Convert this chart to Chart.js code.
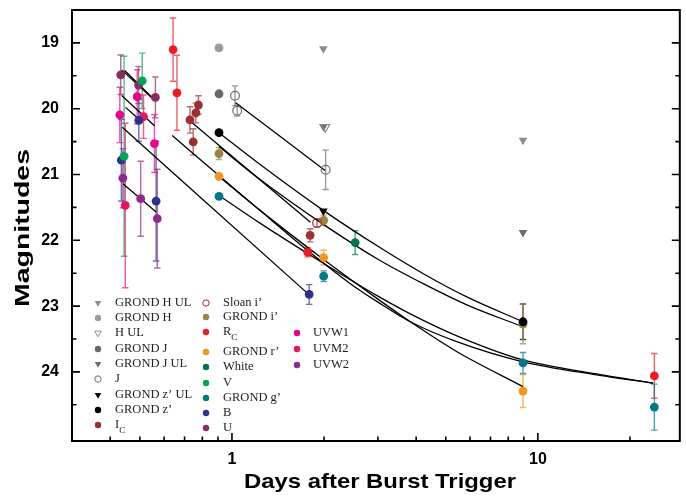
<!DOCTYPE html>
<html><head><meta charset="utf-8">
<script src="https://cdn.jsdelivr.net/npm/chart.js@4.4.0/dist/chart.umd.min.js"></script>
<style>html,body{margin:0;padding:0;background:#fff;overflow:hidden;}canvas{display:block;}</style>
</head><body><canvas id="c" width="686" height="496" style="width:686px;height:496px;"></canvas>
<script>
// ---- data: [days after trigger, magnitude, error] ----
const GROND_H_UL = [[1.99,19.09],[8.94,20.48]];
const GROND_H    = [[0.907,19.076,0.04]];
const H_UL       = [[2.02,20.28]];
const GROND_J    = [[0.907,19.773,0.02]];
const GROND_J_UL = [[1.99,20.27],[8.94,21.88]];
const J_BAND     = [[1.023,19.803,0.15],[1.040,20.03,0.08],[2.024,20.929,0.30]];
const GROND_Z_UL = [[1.99,21.556]];
const GROND_Z    = [[0.907,20.364,0.03],[8.94,23.238,0.27]];
const IC_BAND    = [[0.729,20.171,0.20],[0.747,20.505,0.20],[0.762,20.065,0.15],[0.777,19.944,0.14],[1.801,21.924,0.10]];
const SLOAN_I    = [[1.898,21.738,0.06]];
const GROND_I    = [[0.907,20.682,0.09],[1.994,21.697,0.08],[8.94,23.273,0.30]];
const RC_BAND    = [[0.642,19.102,0.48],[0.661,19.758,0.57],[1.769,22.182,0.07],[24.03,24.061,0.34]];
const GROND_R    = [[0.907,21.030,0.03],[1.994,22.262,0.11],[8.94,24.292,0.25]];
const WHITE      = [[2.527,22.035,0.18]];
const V_BAND     = [[0.444,20.723,1.52],[0.509,19.576,0.42]];
const GROND_G    = [[0.907,21.333,0.03],[1.994,22.545,0.08],[8.94,23.864,0.16],[24.03,24.535,0.35]];
const B_BAND     = [[0.435,20.783,0.62],[0.496,20.177,0.32],[0.565,21.405,0.91],[1.788,22.823,0.15]];
const U_BAND     = [[0.433,19.485,0.30],[0.495,19.641,0.28],[0.562,19.829,0.31]];
const UVW1       = [[0.430,20.095,0.42],[0.490,19.818,0.41],[0.558,20.530,0.44]];
const UVM2       = [[0.448,21.470,1.25],[0.514,20.121,0.33]];
const UVW2       = [[0.440,21.056,0.45],[0.503,21.368,0.57],[0.570,21.671,0.75]];

// ---- fitted light-curve models: [days, magnitude] ----
const FIT_EARLY_1 = [[0.436,19.41],[0.549,19.84]];
const FIT_EARLY_2 = [[0.446,19.42],[0.562,19.88]];
const FIT_EARLY_3 = [[0.436,19.80],[0.558,20.26]];
const FIT_EARLY_4 = [[0.449,19.98],[0.510,20.21]];
const FIT_EARLY_5 = [[0.440,21.14],[0.565,21.57]];
const FIT_B  = [[0.438,20.283],[1.778,22.818]];
const FIT_IC = [[0.741,20.212],[1.805,21.727]];
const FIT_J  = [[1.028,19.909],[2.015,20.939]];
const FIT_Z  = [[0.907,20.364],[1.224,20.833],[1.989,21.545],[3.00,22.091],[4.25,22.515],[5.88,22.864],[8.94,23.238]];
const FIT_I  = [[0.907,20.576],[1.224,21.061],[1.989,21.758],[3.00,22.288],[4.25,22.667],[5.88,22.985],[8.94,23.314]];
const FIT_RC = [[0.638,20.409],[0.907,21.015],[1.224,21.530],[1.765,22.152],[2.399,22.636],[3.00,22.939],[3.841,23.242],[5.458,23.545],[8.94,23.848],[15.54,24.045],[23.8,24.171]];
const FIT_R  = [[0.907,21.030],[1.224,21.530],[1.989,22.288],[3.00,22.894],[3.841,23.242],[5.458,23.697],[8.94,24.223]];
const FIT_G  = [[0.907,21.318],[1.224,21.727],[1.989,22.348],[3.00,22.848],[3.841,23.121],[5.458,23.455],[8.94,23.818],[15.54,24.030],[23.8,24.171]];

const X_TICKS = [1,10];
const Y_TICKS = [19,20,21,22,23,24];
const X_LIMITS = [0.3,29.1];
const Y_LIMITS = [18.5,25.05];

const SERIES = [
  {label:'GROND H UL', data:GROND_H_UL, color:'#8c8c8c', shape:'tri',  open:false},
  {label:'GROND H',    data:GROND_H,    color:'#9c9c9c', shape:'circ', open:false},
  {label:'H UL',       data:H_UL,       color:'#8c8c8c', shape:'tri',  open:true},
  {label:'GROND J',    data:GROND_J,    color:'#686868', shape:'circ', open:false},
  {label:'GROND J UL', data:GROND_J_UL, color:'#6b6b6b', shape:'tri',  open:false},
  {label:'J',          data:J_BAND,     color:'#6e6e6e', shape:'circ', open:true},
  {label:'GROND z\u2019 UL', data:GROND_Z_UL, color:'#000000', shape:'tri', open:false},
  {label:'GROND z\u2019',    data:GROND_Z,    color:'#000000', shape:'circ', open:false},
  {label:'I_C',        data:IC_BAND,    color:'#9c2f32', shape:'circ', open:false},
  {label:'Sloan i\u2019',    data:SLOAN_I,    color:'#a0282c', shape:'circ', open:true},
  {label:'GROND i\u2019',    data:GROND_I,    color:'#9a8540', shape:'circ', open:false},
  {label:'R_C',        data:RC_BAND,    color:'#ed1c24', shape:'circ', open:false},
  {label:'GROND r\u2019',    data:GROND_R,    color:'#f7941d', shape:'circ', open:false},
  {label:'White',      data:WHITE,      color:'#00754a', shape:'circ', open:false},
  {label:'V',          data:V_BAND,     color:'#00a651', shape:'circ', open:false},
  {label:'GROND g\u2019',    data:GROND_G,    color:'#00788a', shape:'circ', open:false},
  {label:'B',          data:B_BAND,     color:'#2e3192', shape:'circ', open:false},
  {label:'U',          data:U_BAND,     color:'#8e2a63', shape:'circ', open:false},
  {label:'UVW1',       data:UVW1,       color:'#ec008c', shape:'circ', open:false},
  {label:'UVM2',       data:UVM2,       color:'#ed145b', shape:'circ', open:false},
  {label:'UVW2',       data:UVW2,       color:'#92278f', shape:'circ', open:false}
];
const FITS = [FIT_EARLY_1,FIT_EARLY_2,FIT_EARLY_3,FIT_EARLY_4,FIT_EARLY_5,FIT_B,FIT_IC,FIT_J,FIT_Z,FIT_I,FIT_RC,FIT_R,FIT_G];

// legend layout (three columns)
const LEGEND_COLS = [
  {mx:98,  tx:115, labels:['GROND H UL','GROND H','H UL','GROND J','GROND J UL','J','GROND z\u2019 UL','GROND z\u2019','I_C'], ys:[303,318,333,349,364,379,395,410,425]},
  {mx:206, tx:223, labels:['Sloan i\u2019','GROND i\u2019','R_C','GROND r\u2019','White','V','GROND g\u2019','B','U'], ys:[303,317,332,352,367,383,398,413,428]},
  {mx:297, tx:313, labels:['UVW1','UVM2','UVW2'], ys:[333,349,365]}
];

const toPts = arr => arr.map(p => ({x:p[0], y:p[1], e:p[2]||0}));

const datasets = [];
SERIES.forEach(s => {
  datasets.push({
    type:'scatter', label:s.label, data:toPts(s.data), order:0,
    pointStyle: s.shape==='tri' ? 'triangle' : 'circle',
    rotation: s.shape==='tri' ? 180 : 0,
    pointRadius: s.shape==='tri' ? 5 : 4.4,
    pointHoverRadius: 5,
    backgroundColor: s.open ? 'rgba(255,255,255,0)' : s.color,
    borderColor: s.color,
    borderWidth: s.open ? 1.2 : 0,
    _shape:s.shape, _open:s.open, _color:s.color, _err:true
  });
});
FITS.forEach((f,i) => {
  datasets.push({
    type:'line', label:'fit'+i, data:toPts(f), order:1,
    borderColor:'#000', borderWidth:1.3, pointRadius:0, fill:false,
    cubicInterpolationMode:'monotone', _fit:true
  });
});

function drawMarker(ctx, x, y, shape, open, color, r){
  ctx.beginPath();
  if (shape==='tri'){
    ctx.moveTo(x, y + r);
    ctx.lineTo(x - r*0.866, y - r*0.5);
    ctx.lineTo(x + r*0.866, y - r*0.5);
    ctx.closePath();
  } else {
    ctx.arc(x, y, r, 0, Math.PI*2);
  }
  if (open){ ctx.lineWidth=1; ctx.strokeStyle=color; ctx.stroke(); }
  else { ctx.fillStyle=color; ctx.fill(); }
}

const errorBars = {
  id:'errorBars',
  beforeDatasetsDraw(chart){
    const ctx=chart.ctx, xs=chart.scales.x, ys=chart.scales.y;
    ctx.save();
    chart.data.datasets.forEach(ds=>{
      if(!ds._err) return;
      ds.data.forEach(p=>{
        if(!p.e) return;
        const x=xs.getPixelForValue(p.x);
        const y1=ys.getPixelForValue(p.y-p.e), y2=ys.getPixelForValue(p.y+p.e);
        ctx.strokeStyle=ds._color; ctx.globalAlpha=0.7; ctx.lineWidth=1.4;
        ctx.beginPath();
        ctx.moveTo(x,y1); ctx.lineTo(x,y2);
        ctx.moveTo(x-3.2,y1); ctx.lineTo(x+3.2,y1);
        ctx.moveTo(x-3.2,y2); ctx.lineTo(x+3.2,y2);
        ctx.stroke();
      });
    });
    ctx.restore();
  }
};

const frameAndLabels = {
  id:'frameAndLabels',
  afterDraw(chart){
    const ctx=chart.ctx, a=chart.chartArea, xs=chart.scales.x, ys=chart.scales.y;
    ctx.save();
    ctx.strokeStyle='#000'; ctx.lineWidth=2;
    ctx.strokeRect(a.left, a.top, a.right-a.left, a.bottom-a.top);
    ctx.lineWidth=1.6;
    ctx.beginPath();
    for (let v=19; v<=24.5; v+=0.5){
      const y=ys.getPixelForValue(v);
      const len = Number.isInteger(v) ? 8 : 4.5;
      ctx.moveTo(a.left, y); ctx.lineTo(a.left+len, y);
      ctx.moveTo(a.right, y); ctx.lineTo(a.right-len, y);
    }
    [0.1,1,10].forEach(d=>{
      for(let k=1;k<=9;k++){
        const v=k*d;
        if(v<X_LIMITS[0]-1e-9 || v>X_LIMITS[1]) continue;
        const x=xs.getPixelForValue(v);
        const len = k===1 ? 8 : 4.5;
        ctx.moveTo(x, a.bottom); ctx.lineTo(x, a.bottom-len);
      }
    });
    ctx.stroke();

    ctx.fillStyle='#000';
    ctx.font='bold 21px "Liberation Sans", Arial, sans-serif';
    ctx.textAlign='center'; ctx.textBaseline='middle';
    let t='Days after Burst Trigger';
    let w=ctx.measureText(t).width, sx=272/w;
    ctx.save(); ctx.translate(380,482); ctx.scale(sx,1); ctx.fillText(t,0,0); ctx.restore();
    t='Magnitudes';
    w=ctx.measureText(t).width; sx=158/w;
    ctx.save(); ctx.translate(23,228); ctx.rotate(-Math.PI/2); ctx.scale(sx,1); ctx.fillText(t,0,0); ctx.restore();

    ctx.textAlign='left'; ctx.textBaseline='middle';
    LEGEND_COLS.forEach(col=>{
      col.labels.forEach((lab,i)=>{
        const ds=chart.data.datasets.find(d=>d.label===lab);
        const y=col.ys[i];
        drawMarker(ctx, col.mx, y, ds._shape, ds._open, ds._color, ds._shape==='tri'?3.8:3.2);
        ctx.fillStyle='#222';
        ctx.font='12.5px "Liberation Serif", "Times New Roman", serif';
        if(lab.indexOf('_')>0){
          const [m,s]=lab.split('_');
          ctx.fillText(m, col.tx, y);
          const mw=ctx.measureText(m).width;
          ctx.font='9px "Liberation Serif", "Times New Roman", serif';
          ctx.fillText(s, col.tx+mw, y+6);
        } else {
          ctx.fillText(lab, col.tx, y);
        }
      });
    });
    ctx.restore();
  }
};

function zeroPad(sc){ sc.paddingTop=0; sc.paddingBottom=0; sc.paddingLeft=0; sc.paddingRight=0; }

// keep the plot frame at fixed margins (left 72, top 10, right 2, bottom 55)
const fixArea = {
  id:'fixArea',
  beforeLayout(chart){
    chart.options.layout.padding = {top:10, right:2, left:0, bottom:0};
  }
};

new Chart(document.getElementById('c'), {
  data:{datasets},
  options:{
    responsive:false, animation:false, devicePixelRatio:1,
    layout:{padding:{top:10,right:2,left:0,bottom:0}},
    plugins:{legend:{display:false}, tooltip:{enabled:false}},
    scales:{
      x:{type:'logarithmic', min:X_LIMITS[0], max:X_LIMITS[1], offset:false,
         grid:{display:false, drawTicks:false, offset:false}, border:{display:false},
         afterBuildTicks:sc=>{sc.ticks=X_TICKS.map(v=>({value:v}));},
         afterFit:sc=>{sc.height=55; zeroPad(sc);},
         afterUpdate:sc=>{zeroPad(sc);},
         ticks:{padding:9, color:'#000', font:{family:'"Liberation Sans", Arial', size:16, weight:'bold'},
                callback:v=>String(v), maxRotation:0, minRotation:0, autoSkip:false}},
      y:{type:'linear', reverse:true, min:Y_LIMITS[0], max:Y_LIMITS[1],
         grid:{display:false, drawTicks:false}, border:{display:false},
         afterBuildTicks:sc=>{sc.ticks=Y_TICKS.map(v=>({value:v}));},
         afterFit:sc=>{sc.width=72; zeroPad(sc);},
         afterUpdate:sc=>{zeroPad(sc);},
         ticks:{padding:13, color:'#000', font:{family:'"Liberation Sans", Arial', size:16, weight:'bold'},
                callback:v=>String(v)}}
    }
  },
  plugins:[fixArea, errorBars, frameAndLabels]
});
</script>
</body></html>
